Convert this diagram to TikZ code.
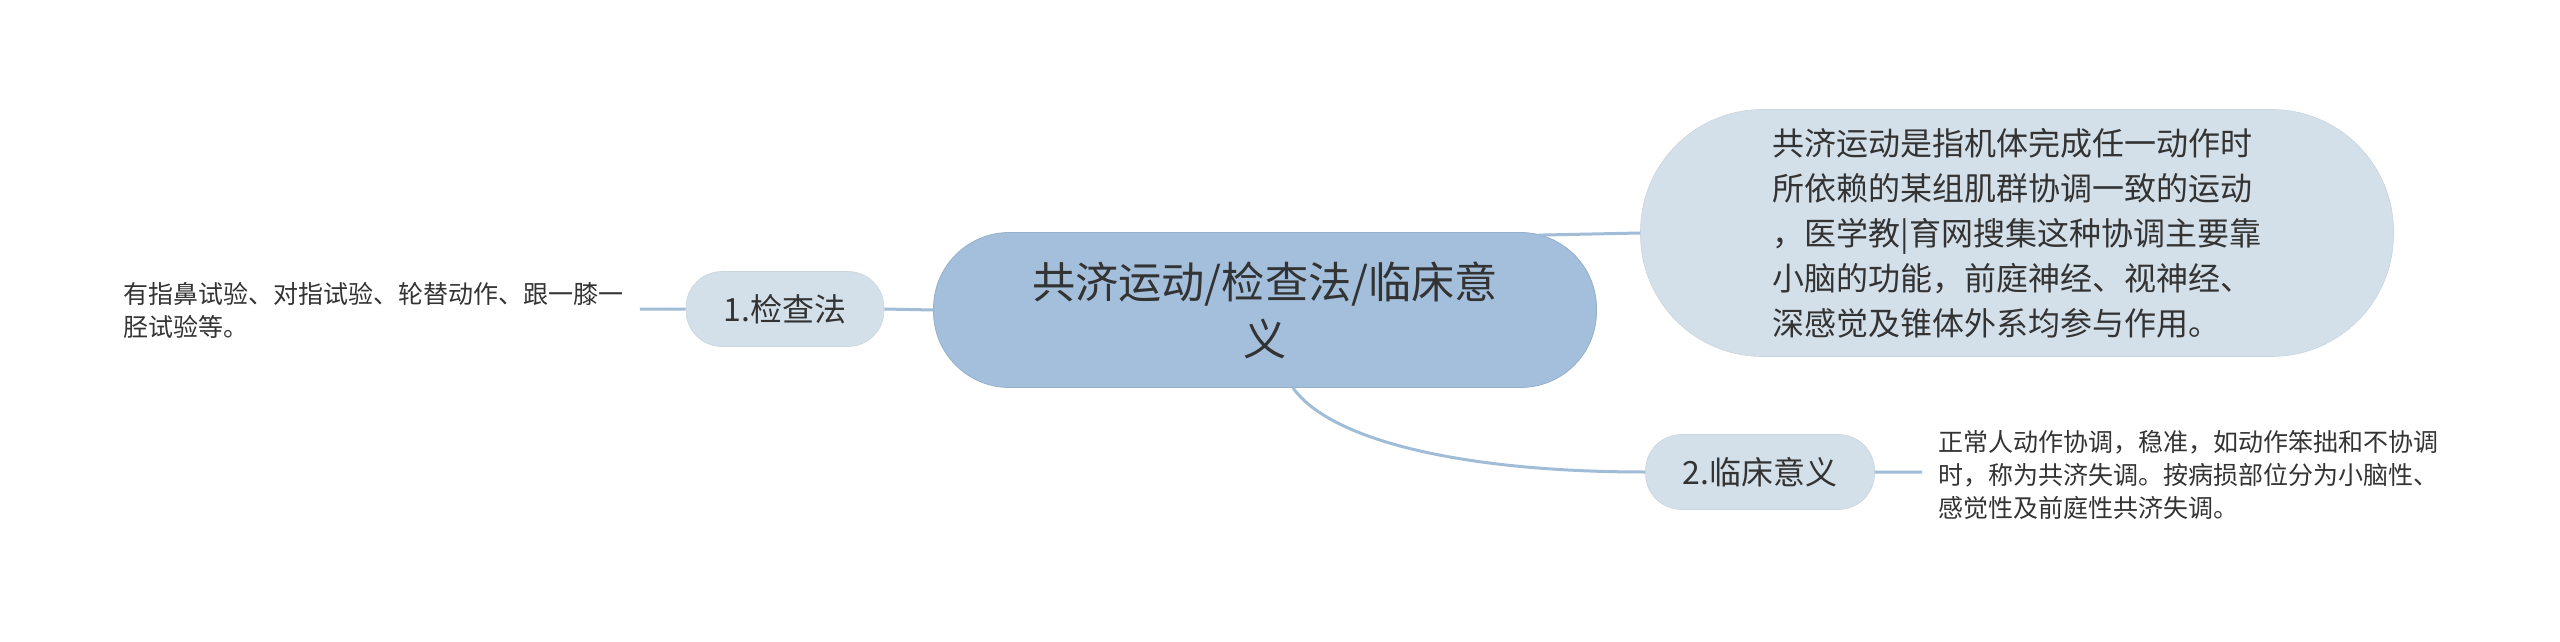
\documentclass[tikz,border=0pt]{standalone}
\usepackage{fontspec}
\setmainfont{Noto Sans CJK SC}
\usepackage{xcolor}
\definecolor{linkblue}{HTML}{A0BCD7}
\definecolor{rootfill}{HTML}{A3BFDB}
\definecolor{subfill}{HTML}{D4E0E9}
\definecolor{inktext}{HTML}{333333}

\begin{document}
\begin{tikzpicture}[x=0.5pt, y=-0.5pt,
  link/.style={draw=linkblue, line width=1.5pt},
  rootnode/.style={fill=rootfill, draw=rootfill!92!black, line width=0.4pt, rounded corners=38pt,
    minimum width=331.5pt, minimum height=77.5pt, inner sep=0pt, align=center, text=inktext,
    font=\fontsize{21.6pt}{28.5pt}\selectfont},
  subnode/.style={fill=subfill, draw=subfill!95!black, line width=0.3pt, inner sep=0pt, text=inktext,
    font=\fontsize{16pt}{22.5pt}\selectfont},
  notetext/.style={inner xsep=8pt, inner ysep=0pt, align=left, text=inktext,
    font=\fontsize{12.5pt}{16.5pt}\selectfont}]
\useasboundingbox (0, 0) rectangle (2560, 642);
\node[rootnode] (root) at (1265, 310) {共济运动/检查法/临床意\\义};
\node[subnode, rounded corners=61pt, minimum width=376.5pt, minimum height=123.5pt, align=left]
  (desc) at (2017, 233) {共济运动是指机体完成任一动作时\\所依赖的某组肌群协调一致的运动\\，医学教|育网搜集这种协调主要靠\\小脑的功能，前庭神经、视神经、\\深感觉及锥体外系均参与作用。};
\node[subnode, rounded corners=18pt, minimum width=99pt, minimum height=37.5pt]
  (check) at (785, 309) {1.检查法};
\node[subnode, rounded corners=18pt, minimum width=114.5pt, minimum height=37.5pt]
  (clinic) at (1760, 472) {2.临床意义};
\node[notetext, anchor=west] (checknote) at (107, 310) {有指鼻试验、对指试验、轮替动作、跟一膝一\\胫试验等。};
\node[notetext, anchor=west] (clinicnote) at (1922, 475) {正常人动作协调，稳准，如动作笨拙和不协调\\时，称为共济失调。按病损部位分为小脑性、\\感觉性及前庭性共济失调。};
\draw[link] (checknote.east |- check.west) -- (check.west)
  (check.east) -- (root.west)
  ([xshift=-29pt, yshift=-1.5pt]root.north east) -- (desc.west)
  ([xshift=14pt]root.south) .. controls +(37, 52) and +(-185, 0) .. (clinic.west)
  (clinic.east) -- (clinic.east -| clinicnote.west);
\end{tikzpicture}
\end{document}
